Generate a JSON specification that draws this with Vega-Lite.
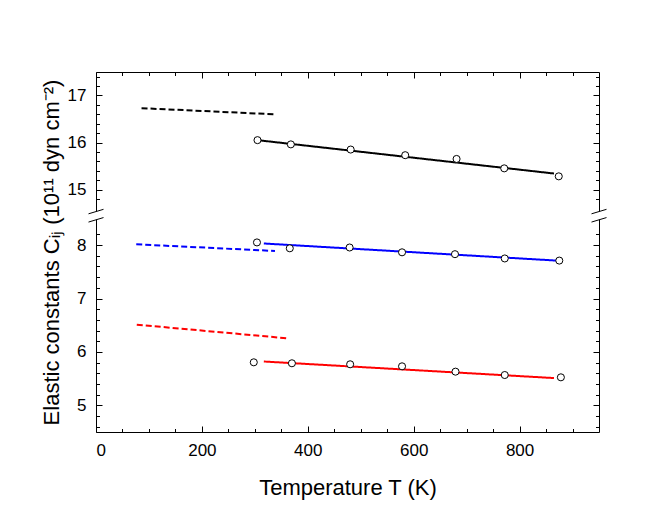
{
  "$schema": "https://vega.github.io/schema/vega-lite/v6.json",
  "autosize": "none",
  "padding": {"left": 96, "top": 72, "right": 61, "bottom": 78},
  "width": 503,
  "height": 360,
  "background": "white",
  "config": {
    "view": {"stroke": null},
    "axis": {
      "grid": false,
      "domainColor": "black",
      "domainWidth": 1,
      "tickColor": "black",
      "tickWidth": 1,
      "labelColor": "black",
      "titleColor": "black",
      "labelFont": "Liberation Sans",
      "titleFont": "Liberation Sans",
      "titleFontWeight": "normal",
      "labelFontSize": 17,
      "titleFontSize": 22
    }
  },
  "datasets": {
    "rows": [
      {"series": "C11", "kind": "expt", "T": 305, "v": 16.05},
      {"series": "C11", "kind": "expt", "T": 368, "v": 15.96},
      {"series": "C11", "kind": "expt", "T": 481, "v": 15.85},
      {"series": "C11", "kind": "expt", "T": 584, "v": 15.73},
      {"series": "C11", "kind": "expt", "T": 681, "v": 15.65},
      {"series": "C11", "kind": "expt", "T": 771, "v": 15.45},
      {"series": "C11", "kind": "expt", "T": 874, "v": 15.28},
      {"series": "C44", "kind": "expt", "T": 304, "v": 8.05},
      {"series": "C44", "kind": "expt", "T": 366, "v": 7.94},
      {"series": "C44", "kind": "expt", "T": 479, "v": 7.955},
      {"series": "C44", "kind": "expt", "T": 578, "v": 7.865},
      {"series": "C44", "kind": "expt", "T": 678, "v": 7.83},
      {"series": "C44", "kind": "expt", "T": 772, "v": 7.75},
      {"series": "C44", "kind": "expt", "T": 875, "v": 7.71},
      {"series": "C12", "kind": "expt", "T": 298, "v": 5.805},
      {"series": "C12", "kind": "expt", "T": 370, "v": 5.787},
      {"series": "C12", "kind": "expt", "T": 480, "v": 5.768},
      {"series": "C12", "kind": "expt", "T": 578, "v": 5.73},
      {"series": "C12", "kind": "expt", "T": 679, "v": 5.63},
      {"series": "C12", "kind": "expt", "T": 772, "v": 5.567},
      {"series": "C12", "kind": "expt", "T": 878, "v": 5.524},
      {"series": "C11", "kind": "fit", "T": 305, "v": 16.05},
      {"series": "C11", "kind": "fit", "T": 865, "v": 15.34},
      {"series": "C44", "kind": "fit", "T": 317, "v": 8.03},
      {"series": "C44", "kind": "fit", "T": 870, "v": 7.71},
      {"series": "C12", "kind": "fit", "T": 317, "v": 5.82},
      {"series": "C12", "kind": "fit", "T": 865, "v": 5.51},
      {"series": "C11", "kind": "ref", "T": 86, "v": 16.73},
      {"series": "C11", "kind": "ref", "T": 338, "v": 16.6},
      {"series": "C44", "kind": "ref", "T": 76, "v": 8.015},
      {"series": "C44", "kind": "ref", "T": 338, "v": 7.89},
      {"series": "C12", "kind": "ref", "T": 77, "v": 6.51},
      {"series": "C12", "kind": "ref", "T": 361, "v": 6.255}
    ],
    "breaks": [
      {"T": 0, "v": 11.5},
      {"T": 950, "v": 11.5}
    ]
  },
  "layer": [
    {
      "encoding": {
        "x": {
          "field": "T",
          "type": "quantitative",
          "scale": {"domain": [0, 950], "nice": false, "zero": false},
          "axis": {
            "orient": "bottom",
            "values": [0, 50, 100, 150, 200, 250, 300, 350, 400, 450, 500, 550, 600, 650, 700, 750, 800, 850, 900],
            "tickCount": 100,
            "labelOverlap": false,
            "labelExpr": "datum.value % 200 == 0 ? format(datum.value, 'd') : ''",
            "tickSize": {"condition": {"test": "datum.value % 200 == 0", "value": -6}, "value": -3.5},
            "labelPadding": 16,
            "title": "Temperature T (K)",
            "titlePadding": 17
          }
        },
        "y": {
          "field": "v",
          "type": "quantitative",
          "scale": {"domain": [4.5, 8.5, 14.5, 17.5], "range": [360, 146.4, 141, 0], "nice": false, "zero": false},
          "axis": {
            "orient": "left",
            "values": [4.6, 4.8, 5, 5.2, 5.4, 5.6, 5.8, 6, 6.2, 6.4, 6.6, 6.8, 7, 7.2, 7.4, 7.6, 7.8, 8, 8.2, 14.8, 15, 15.2, 15.4, 15.6, 15.8, 16, 16.2, 16.4, 16.6, 16.8, 17, 17.2, 17.4],
            "tickCount": 100,
            "labelOverlap": false,
            "labelExpr": "abs(datum.value - round(datum.value)) < 0.01 ? format(datum.value, 'd') : ''",
            "tickSize": {"condition": {"test": "abs(datum.value - round(datum.value)) < 0.01", "value": -6}, "value": -3.5},
            "labelPadding": 16,
            "title": "Elastic constants Cᵢⱼ (10¹¹ dyn cm⁻²)",
            "titlePadding": 4
          }
        }
      },
      "layer": [
        {
          "data": {"name": "rows"},
          "transform": [{"filter": "datum.kind != 'expt'"}],
          "mark": {"type": "line", "strokeWidth": 2},
          "encoding": {
            "detail": {"field": "kind"},
            "color": {
              "field": "series",
              "type": "nominal",
              "scale": {"domain": ["C11", "C44", "C12"], "range": ["#000000", "#0000ff", "#ff0000"]},
              "legend": null
            },
            "strokeDash": {
              "field": "kind",
              "type": "nominal",
              "scale": {"domain": ["fit", "ref"], "range": [[1, 0], [6, 3]]},
              "legend": null
            }
          }
        },
        {
          "data": {"name": "rows"},
          "transform": [{"filter": "datum.kind == 'expt'"}],
          "mark": {"type": "point", "shape": "circle", "filled": true, "fill": "white", "stroke": "black", "strokeWidth": 1, "size": 50, "opacity": 1}
        },
        {
          "data": {"name": "breaks"},
          "mark": {"type": "point", "shape": "M-1,-0.25L1,-0.85L1,0.25L-1,0.85Z", "filled": true, "fill": "white", "strokeWidth": 0, "size": 225, "opacity": 1}
        },
        {
          "data": {"name": "breaks"},
          "mark": {"type": "point", "shape": "M-1,-0.25L1,-0.85M-1,0.85L1,0.25", "filled": false, "stroke": "black", "strokeWidth": 1, "size": 225, "opacity": 1}
        }
      ]
    },
    {
      "data": {"name": "breaks"},
      "mark": {"type": "point", "opacity": 0},
      "encoding": {
        "x": {
          "field": "T",
          "type": "quantitative",
          "scale": {"domain": [0, 950], "nice": false, "zero": false},
          "axis": {
            "orient": "top",
            "values": [0, 50, 100, 150, 200, 250, 300, 350, 400, 450, 500, 550, 600, 650, 700, 750, 800, 850, 900],
            "tickCount": 100,
            "labels": false,
            "tickSize": {"condition": {"test": "datum.value % 200 == 0", "value": -6}, "value": -3.5},
            "title": null
          }
        },
        "y": {
          "field": "v",
          "type": "quantitative",
          "scale": {"domain": [4.5, 8.5, 14.5, 17.5], "range": [360, 146.4, 141, 0], "nice": false, "zero": false},
          "axis": {
            "orient": "right",
            "values": [4.6, 4.8, 5, 5.2, 5.4, 5.6, 5.8, 6, 6.2, 6.4, 6.6, 6.8, 7, 7.2, 7.4, 7.6, 7.8, 8, 8.2, 14.8, 15, 15.2, 15.4, 15.6, 15.8, 16, 16.2, 16.4, 16.6, 16.8, 17, 17.2, 17.4],
            "tickCount": 100,
            "labels": false,
            "tickSize": {"condition": {"test": "abs(datum.value - round(datum.value)) < 0.01", "value": -6}, "value": -3.5},
            "title": null
          }
        }
      }
    }
  ],
  "resolve": {"axis": {"x": "independent", "y": "independent"}}
}
